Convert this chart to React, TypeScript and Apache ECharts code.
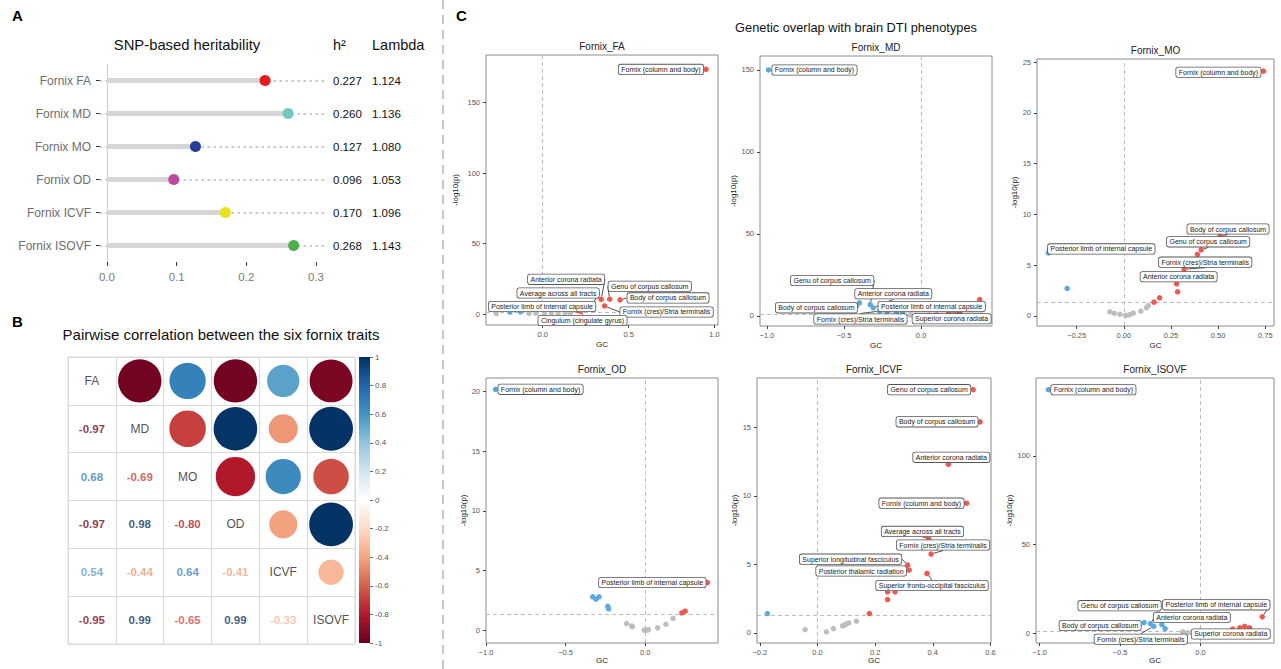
import React, { useEffect, useRef } from "react";
import * as echarts from "echarts";

const FONT = '"Liberation Sans", Arial, Helvetica, sans-serif';

// ---------------- Panel A: SNP-based heritability ----------------
const heritTraits = ["Fornix FA", "Fornix MD", "Fornix MO", "Fornix OD", "Fornix ICVF", "Fornix ISOVF"];
const heritH2 = [0.227, 0.26, 0.127, 0.096, 0.17, 0.268];
const heritLambda = [1.124, 1.136, 1.08, 1.053, 1.096, 1.143];
const heritTicks = [0, 0.1, 0.2, 0.3];
const heritColors = ["#E41A1C", "#72C7C2", "#263F96", "#B94AA0", "#EAE21C", "#4DAF4A"];
const HERIT_MIN = -0.01;
const HERIT_MAX = 0.313;

// ---------------- Panel B: pairwise correlation ----------------
const corrTraits = ["FA", "MD", "MO", "OD", "ICVF", "ISOVF"];
const corrMatrix = [
  [1, -0.97, 0.68, -0.97, 0.54, -0.95],
  [-0.97, 1, -0.69, 0.98, -0.44, 0.99],
  [0.68, -0.69, 1, -0.8, 0.64, -0.65],
  [-0.97, 0.98, -0.8, 1, -0.41, 0.99],
  [0.54, -0.44, 0.64, -0.41, 1, -0.33],
  [-0.95, 0.99, -0.65, 0.99, -0.33, 1],
];
const rdBu = ["#67001F", "#B2182B", "#D6604D", "#F4A582", "#FDDBC7", "#FFFFFF", "#D1E5F0", "#92C5DE", "#4393C3", "#2166AC", "#053061"];

// ---------------- Panel C: genetic overlap ----------------
const SIG_P = 0.05;

const faNames = ["Fornix (column and body)", "Anterior corona radiata", "Genu of corpus callosum", "Body of corpus callosum", "Average across all tracts", "Posterior limb of internal capsule", "Fornix (cres)/Stria terminalis", "Cingulum (cingulate gyrus)", "", "", "", "", "", "", "", "", "", ""];
const faGC = [0.95, 0.34, 0.39, 0.45, 0.27, 0.2, 0.36, 0.22, -0.27, -0.19, -0.13, -0.08, -0.04, 0.01, 0.05, 0.09, 0.13, 0.16];
const faLogP = [173.5, 10.4, 10.5, 10.0, 3.5, 2.5, 5.7, 1.8, 0.3, 1.4, 1.6, 0.4, 0.6, 0.2, 0.8, 0.5, 1.0, 0.7];
const faXTicks = [0, 0.5, 1];
const faYTicks = [0, 50, 100, 150];

const mdNames = ["Fornix (column and body)", "Body of corpus callosum", "Genu of corpus callosum", "Anterior corona radiata", "Posterior limb of internal capsule", "Fornix (cres)/Stria terminalis", "Superior corona radiata", "", "", "", "", "", "", "", "", ""];
const mdGC = [-0.99, -0.4, -0.33, -0.31, 0.38, -0.27, 0.25, -0.22, -0.16, -0.12, -0.07, -0.03, 0.01, 0.05, 0.1, 0.18];
const mdLogP = [150, 8.0, 7.0, 5.0, 10.0, 3.0, 2.0, 2.6, 1.8, 1.5, 0.6, 0.3, 0.1, 0.5, 0.9, 1.9];
const mdXTicks = [-1, -0.5, 0];
const mdYTicks = [0, 50, 100, 150];

const moNames = ["Fornix (column and body)", "Posterior limb of internal capsule", "Body of corpus callosum", "Genu of corpus callosum", "Fornix (cres)/Stria terminalis", "Anterior corona radiata", "", "", "", "", "", "", "", "", "", "", "", "", "", ""];
const moGC = [0.74, -0.4, 0.51, 0.41, 0.32, 0.28, 0.39, 0.285, 0.19, 0.16, -0.3, -0.074, -0.05, -0.02, 0.01, 0.03, 0.05, 0.09, 0.12, 0.13];
const moLogP = [24.1, 6.2, 7.86, 6.5, 4.6, 3.16, 6.05, 2.37, 1.78, 1.35, 2.7, 0.4, 0.25, 0.15, 0.05, 0.1, 0.27, 0.46, 0.8, 1.0];
const moXTicks = [-0.25, 0, 0.25, 0.5, 0.75];
const moYTicks = [0, 5, 10, 15, 20, 25];

const odNames = ["Fornix (column and body)", "Posterior limb of internal capsule", "", "", "", "", "", "", "", "", "", "", "", "", "", "", "", ""];
const odGC = [-0.94, 0.39, -0.33, -0.31, -0.29, -0.235, -0.23, 0.23, 0.25, -0.117, -0.085, -0.08, -0.006, 0.01, 0.02, 0.078, 0.13, 0.175];
const odLogP = [20.2, 4.0, 2.8, 2.6, 2.8, 2.0, 1.8, 1.45, 1.6, 0.56, 0.36, 0.3, 0.02, 0.0, 0.05, 0.2, 0.5, 1.0];
const odXTicks = [-1, -0.5, 0];
const odYTicks = [0, 5, 10, 15, 20];

const icvfNames = ["Genu of corpus callosum", "Body of corpus callosum", "Anterior corona radiata", "Fornix (column and body)", "Average across all tracts", "Fornix (cres)/Stria terminalis", "Superior longitudinal fasciculus", "Posterior thalamic radiation", "Superior fronto-occipital fasciculus", "", "", "", "", "", "", "", "", "", "", "", "", ""];
const icvfGC = [0.54, 0.564, 0.454, 0.517, 0.385, 0.394, 0.3125, 0.318, 0.38, 0.243, 0.269, 0.243, 0.18, -0.174, -0.043, 0.031, 0.055, 0.087, 0.093, 0.099, 0.108, 0.135];
const icvfLogP = [17.75, 15.4, 12.3, 9.47, 6.9, 5.76, 4.95, 4.59, 4.34, 3.0, 3.0, 2.44, 1.42, 1.42, 0.25, 0.08, 0.32, 0.52, 0.56, 0.64, 0.73, 0.86];
const icvfXTicks = [-0.2, 0, 0.2, 0.4, 0.6];
const icvfYTicks = [0, 5, 10, 15];

const isoNames = ["Fornix (column and body)", "Genu of corpus callosum", "Posterior limb of internal capsule", "Anterior corona radiata", "Body of corpus callosum", "Fornix (cres)/Stria terminalis", "Superior corona radiata", "", "", "", "", "", "", "", "", "", ""];
const isoGC = [-0.945, -0.31, 0.384, -0.24, -0.35, -0.29, -0.11, -0.22, 0.2, 0.244, 0.275, 0.305, -0.08, -0.03, 0.02, 0.08, 0.13];
const isoLogP = [137.2, 5.6, 9.4, 5.1, 6.2, 4.1, 0.9, 2.8, 2.5, 3.2, 4.1, 3.2, 0.5, 0.3, 0.2, 0.6, 1.0];
const isoXTicks = [-1, -0.5, 0];
const isoYTicks = [0, 50, 100];

// label offsets (px) of the repelled label boxes, per panel
const faLabelPos: Record<string, number[]> = {
  "Fornix (column and body)": [-45, 0],
  "Anterior corona radiata": [-35, -20],
  "Genu of corpus callosum": [40, -13],
  "Body of corpus callosum": [48, -2],
  "Average across all tracts": [-31, -16],
  "Posterior limb of internal capsule": [-35, -4],
  "Fornix (cres)/Stria terminalis": [62, 6],
  "Cingulum (cingulate gyrus)": [2, 9],
};
const mdLabelPos: Record<string, number[]> = {
  "Fornix (column and body)": [46, 0],
  "Body of corpus callosum": [-43, 5],
  "Genu of corpus callosum": [-38, -24],
  "Anterior corona radiata": [20, -14],
  "Posterior limb of internal capsule": [-48, 7],
  "Fornix (cres)/Stria terminalis": [-19, 8],
  "Superior corona radiata": [-8, 6],
};
const moLabelPos: Record<string, number[]> = {
  "Fornix (column and body)": [-45, 1],
  "Posterior limb of internal capsule": [53, -4],
  "Body of corpus callosum": [8, -7],
  "Genu of corpus callosum": [7, -8],
  "Fornix (cres)/Stria terminalis": [21, -7],
  "Anterior corona radiata": [2, -7],
};
const odLabelPos: Record<string, number[]> = {
  "Fornix (column and body)": [45, 0],
  "Posterior limb of internal capsule": [-55, 0],
};
const icvfLabelPos: Record<string, number[]> = {
  "Genu of corpus callosum": [-44, 0],
  "Body of corpus callosum": [-43, 0],
  "Anterior corona radiata": [3, -7],
  "Fornix (column and body)": [-45, 0],
  "Average across all tracts": [-6, -7],
  "Fornix (cres)/Stria terminalis": [12, -9],
  "Superior longitudinal fasciculus": [-57, -6],
  "Posterior thalamic radiation": [-48, 1],
  "Superior fronto-occipital fasciculus": [5, 12],
};
const isoLabelPos: Record<string, number[]> = {
  "Fornix (column and body)": [45, 0],
  "Genu of corpus callosum": [-31, -18],
  "Posterior limb of internal capsule": [-46, -12],
  "Anterior corona radiata": [30, -7],
  "Body of corpus callosum": [-44, 3],
  "Fornix (cres)/Stria terminalis": [-13, 13],
  "Superior corona radiata": [48, 2],
};

const cPanels = [
  { title: "Fornix_FA", left: 486, top: 55, width: 232, height: 270, xMin: -0.33, xMax: 1.02, yMin: -7.8, yMax: 183.7, xTicks: faXTicks, xDec: 1, yTicks: faYTicks, yDec: 0, yGap: 27, xGap: 15, names: faNames, gc: faGC, lp: faLogP, pos: faLabelPos },
  { title: "Fornix_MD", left: 760, top: 56, width: 232, height: 270, xMin: -1.045, xMax: 0.46, yMin: -6.1, yMax: 158.5, xTicks: mdXTicks, xDec: 1, yTicks: mdYTicks, yDec: 0, yGap: 21, xGap: 15, names: mdNames, gc: mdGC, lp: mdLogP, pos: mdLabelPos },
  { title: "Fornix_MO", left: 1037, top: 59, width: 237, height: 267, xMin: -0.46, xMax: 0.796, yMin: -1.0, yMax: 25.3, xTicks: moXTicks, xDec: 2, yTicks: moYTicks, yDec: 0, yGap: 13, xGap: 15, names: moNames, gc: moGC, lp: moLogP, pos: moLabelPos },
  { title: "Fornix_OD", left: 486, top: 378, width: 232, height: 265, xMin: -1.0, xMax: 0.457, yMin: -1.07, yMax: 21.15, xTicks: odXTicks, xDec: 1, yTicks: odYTicks, yDec: 0, yGap: 13, xGap: 12, names: odNames, gc: odGC, lp: odLogP, pos: odLabelPos },
  { title: "Fornix_ICVF", left: 757, top: 378, width: 234, height: 265, xMin: -0.21, xMax: 0.602, yMin: -0.73, yMax: 18.6, xTicks: icvfXTicks, xDec: 1, yTicks: icvfYTicks, yDec: 0, yGap: 12, xGap: 12, names: icvfNames, gc: icvfGC, lp: icvfLogP, pos: icvfLabelPos },
  { title: "Fornix_ISOVF", left: 1036, top: 378, width: 238, height: 265, xMin: -1.022, xMax: 0.457, yMin: -5.3, yMax: 143.8, xTicks: isoXTicks, xDec: 1, yTicks: isoYTicks, yDec: 0, yGap: 17, xGap: 12, names: isoNames, gc: isoGC, lp: isoLogP, pos: isoLabelPos },
];

const RED = "#F0584E";
const BLUE = "#5AAAE0";
const GRAY = "#BEBEBE";

function fmtTick(v: number, dec: number) {
  const s = v.toFixed(dec);
  return s.startsWith("-") ? "\u2212" + s.slice(1) : s;
}

function corrColor(r: number) {
  const lerp = (echarts as any).color && (echarts as any).color.lerp;
  return lerp ? lerp((r + 1) / 2, rdBu) : r < 0 ? "#B2182B" : "#2166AC";
}

function buildOption() {
  const sigLine = -Math.log10(SIG_P);

  const grids: any[] = [
    { left: 100, top: 64, width: 225, height: 198 },
    { left: 68, top: 357, width: 287, height: 287, show: true, borderColor: "#d9d9d9", borderWidth: 1 },
    { left: 359, top: 357, width: 11, height: 286 },
    ...cPanels.map((p) => ({ left: p.left, top: p.top, width: p.width, height: p.height, show: true, borderColor: "#8c8c8c", borderWidth: 1 })),
  ];

  const xAxes: any[] = [
    {
      gridIndex: 0, type: "value", min: HERIT_MIN, max: HERIT_MAX,
      axisLine: { show: false, onZero: false }, splitLine: { show: false },
      axisTick: { show: true, customValues: heritTicks, length: 4, lineStyle: { color: "#333" } },
      axisLabel: { customValues: heritTicks, formatter: (v: number) => v.toFixed(1), color: "#7a7a7a", fontSize: 11.5, margin: 9 },
    },
    {
      gridIndex: 1, type: "category", data: corrTraits, position: "top",
      axisLine: { show: false, onZero: false }, axisTick: { show: false }, axisLabel: { show: false },
      splitLine: { show: true, interval: 0, lineStyle: { color: "#d9d9d9", width: 1 } },
    },
    { gridIndex: 2, type: "value", min: 0, max: 1, show: false },
    ...cPanels.map((p, k) => ({
      gridIndex: 3 + k, type: "value", min: p.xMin, max: p.xMax, position: "bottom",
      axisLine: { show: false, onZero: false }, splitLine: { show: false },
      axisTick: { show: true, customValues: p.xTicks, length: 3, lineStyle: { color: "#444" } },
      axisLabel: { customValues: p.xTicks, formatter: (v: number) => fmtTick(v, p.xDec), color: "#555", fontSize: 7.5, margin: 5 },
      name: "GC", nameLocation: "middle", nameGap: p.xGap, nameTextStyle: { fontSize: 8, color: "#222" },
    })),
  ];

  const yAxes: any[] = [
    {
      gridIndex: 0, type: "category", data: heritTraits, inverse: true,
      axisLine: { show: false, onZero: false },
      axisTick: { show: true, alignWithLabel: true, length: 4, lineStyle: { color: "#333" } },
      axisLabel: { color: "#6e6e6e", fontSize: 12, margin: 9 },
    },
    {
      gridIndex: 0, type: "category", data: heritH2.map((v) => v.toFixed(3)), inverse: true, position: "right",
      axisLine: { show: false, onZero: false }, axisTick: { show: false },
      axisLabel: { color: "#111", fontSize: 11.5, margin: 8 },
    },
    {
      gridIndex: 0, type: "category", data: heritLambda.map((v) => v.toFixed(3)), inverse: true, position: "right", offset: 39,
      axisLine: { show: false, onZero: false }, axisTick: { show: false },
      axisLabel: { color: "#111", fontSize: 11.5, margin: 8 },
    },
    {
      gridIndex: 1, type: "category", data: corrTraits, inverse: true,
      axisLine: { show: false, onZero: false }, axisTick: { show: false }, axisLabel: { show: false },
      splitLine: { show: true, interval: 0, lineStyle: { color: "#d9d9d9", width: 1 } },
    },
    {
      gridIndex: 2, type: "value", min: -1, max: 1, interval: 0.2, position: "right",
      axisLine: { show: false, onZero: false }, splitLine: { show: false },
      axisTick: { show: true, length: 3, lineStyle: { color: "#666" } },
      axisLabel: { fontSize: 8, color: "#555", margin: 5, formatter: (v: number) => String(Math.round(v * 10) / 10) },
    },
    ...cPanels.map((p, k) => ({
      gridIndex: 3 + k, type: "value", min: p.yMin, max: p.yMax, position: "left",
      axisLine: { show: false, onZero: false }, splitLine: { show: false },
      axisTick: { show: true, customValues: p.yTicks, length: 3, lineStyle: { color: "#444" } },
      axisLabel: { customValues: p.yTicks, formatter: (v: number) => fmtTick(v, p.yDec), color: "#555", fontSize: 7.5, margin: 6 },
      name: "-log10(p)", nameLocation: "middle", nameGap: p.yGap, nameTextStyle: { fontSize: 8, color: "#222" },
    })),
  ];

  const series: any[] = [];

  // Panel A
  series.push({
    type: "scatter", xAxisIndex: 0, yAxisIndex: 0, data: [], silent: true, z: 1,
    markLine: {
      silent: true, symbol: "none", label: { show: false }, animation: false, z: 1,
      data: [
        ...heritTraits.map((t) => [
          { coord: [HERIT_MIN, t], lineStyle: { type: [1.5, 4.5], color: "#b8b8b8", width: 1.5, cap: "round" } },
          { coord: [HERIT_MAX, t] },
        ]),
        { xAxis: 0, lineStyle: { type: "solid", color: "#cfcfcf", width: 1.2 } },
      ],
    },
  });
  series.push({
    type: "bar", xAxisIndex: 0, yAxisIndex: 0, data: heritH2, barWidth: 5, silent: true, z: 2,
    itemStyle: { color: "#d6d6d6", opacity: 1 },
  });
  series.push({
    type: "scatter", xAxisIndex: 0, yAxisIndex: 0, symbolSize: 11, silent: true, z: 3,
    data: heritH2.map((v, i) => ({ value: [v, i], itemStyle: { color: heritColors[i], opacity: 1 } })),
  });

  // Panel B
  const circles: any[] = [];
  const numbers: any[] = [];
  const diag: any[] = [];
  corrMatrix.forEach((row, i) =>
    row.forEach((r, j) => {
      if (j > i) circles.push({ value: [j, i, r], itemStyle: { color: corrColor(r), opacity: 1 } });
      else if (j < i) numbers.push({ value: [j, i, r], label: { color: corrColor(r) } });
      else diag.push({ value: [j, i, r], name: corrTraits[i] });
    })
  );
  series.push({
    type: "scatter", xAxisIndex: 1, yAxisIndex: 3, silent: true, z: 3,
    symbolSize: (val: number[]) => 44 * Math.sqrt(Math.abs(val[2])),
    itemStyle: { opacity: 1 },
    data: circles,
  });
  series.push({
    type: "scatter", xAxisIndex: 1, yAxisIndex: 3, silent: true, z: 3, symbolSize: 1,
    itemStyle: { color: "rgba(0,0,0,0)" },
    label: { show: true, position: "inside", fontSize: 11.5, fontWeight: "bold", formatter: (p: any) => p.value[2].toFixed(2) },
    data: numbers,
  });
  series.push({
    type: "scatter", xAxisIndex: 1, yAxisIndex: 3, silent: true, z: 3, symbolSize: 1,
    itemStyle: { color: "rgba(0,0,0,0)" },
    label: { show: true, position: "inside", fontSize: 12, color: "#222", formatter: "{b}" },
    data: diag,
  });
  series.push({ type: "scatter", xAxisIndex: 2, yAxisIndex: 4, data: [], silent: true });

  // Panel C
  cPanels.forEach((p, k) => {
    series.push({
      type: "scatter", xAxisIndex: 3 + k, yAxisIndex: 5 + k, symbolSize: 5.5, silent: true, z: 3,
      itemStyle: { opacity: 1 },
      data: p.gc.map((g, i) => ({
        value: [g, p.lp[i]],
        name: p.names[i],
        itemStyle: { color: p.lp[i] > sigLine ? (g > 0 ? RED : BLUE) : GRAY, opacity: 1 },
        label: { show: p.names[i] !== "" },
      })),
      label: {
        show: false, position: "inside", formatter: "{b}", fontSize: 7, color: "#222",
        backgroundColor: "#fff", borderColor: "#555", borderWidth: 0.8, borderRadius: 2, padding: [1.5, 2.5, 1, 2.5],
      },
      labelLine: { show: true, lineStyle: { color: "#222", width: 0.8 } },
      labelLayout: (prm: any) => {
        const o = p.pos[p.names[prm.dataIndex]];
        return o ? { dx: o[0], dy: o[1] } : {};
      },
      markLine: {
        silent: true, symbol: "none", label: { show: false }, animation: false, z: 1,
        lineStyle: { type: [4, 3], color: "#bdbdbd", width: 1 },
        data: [{ xAxis: 0 }, { yAxis: sigLine }],
      },
    });
  });

  const txt = (x: number, y: number, text: string, size: number, extra: any = {}) => ({
    type: "text", x, y, silent: true,
    style: { text, fontSize: size, fontFamily: FONT, fill: "#111", align: "left", verticalAlign: "middle", ...extra },
  });

  const graphic: any[] = [
    { type: "line", silent: true, shape: { x1: 443, y1: 0, x2: 443, y2: 669 }, style: { stroke: "#b5b5b5", lineWidth: 1.5, lineDash: [9, 6] } },
    txt(12, 15, "A", 15, { fontWeight: "bold", fill: "#000" }),
    txt(12, 321, "B", 15, { fontWeight: "bold", fill: "#000" }),
    txt(456, 15, "C", 15, { fontWeight: "bold", fill: "#000" }),
    txt(187, 45, "SNP-based heritability", 14.8, { align: "center" }),
    txt(333, 45, "h\u00B2", 14.5),
    txt(372, 45, "Lambda", 14.5),
    txt(221, 334, "Pairwise correlation between the six fornix traits", 15, { align: "center" }),
    txt(856, 27, "Genetic overlap with brain DTI phenotypes", 12.8, { align: "center" }),
    ...cPanels.map((p) => txt(p.left + p.width / 2, p.top - 9, p.title, 10, { align: "center", fill: "#222" })),
    {
      type: "rect", silent: true, shape: { x: 359, y: 357, width: 11, height: 286 },
      style: {
        fill: new echarts.graphic.LinearGradient(0, 0, 0, 1,
          rdBu.slice().reverse().map((c, i) => ({ offset: i / (rdBu.length - 1), color: c }))),
      },
    },
  ];

  return {
    animation: false,
    backgroundColor: "#fff",
    textStyle: { fontFamily: FONT },
    grid: grids,
    xAxis: xAxes,
    yAxis: yAxes,
    series,
    graphic,
  };
}

export default function App() {
  const ref = useRef<HTMLDivElement>(null);
  useEffect(() => {
    if (!ref.current) return;
    const chart = echarts.init(ref.current, null, { renderer: "svg" });
    chart.setOption(buildOption() as any);
    return () => chart.dispose();
  }, []);
  return (
    <div
      ref={ref}
      style={{ position: "fixed", left: 0, top: 0, width: 1281, height: 669, background: "#fff" }}
    />
  );
}
